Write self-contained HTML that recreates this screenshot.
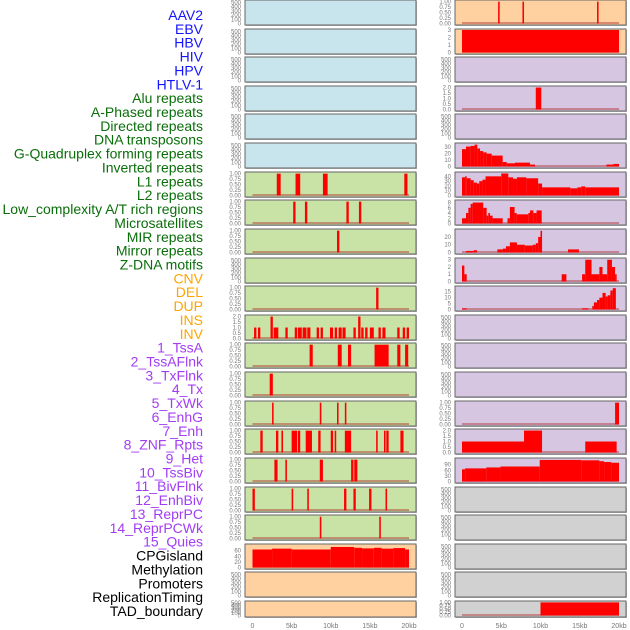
<!DOCTYPE html>
<html><head><meta charset="utf-8"><style>
body{margin:0;background:#fff;width:630px;height:630px;overflow:hidden}
svg{display:block}
</style></head><body>
<svg id="chart" width="630" height="630" xmlns="http://www.w3.org/2000/svg" font-family="Liberation Sans, sans-serif"></svg>
<script>
// ---------- data ----------
const labels = ["AAV2","EBV","HBV","HIV","HPV","HTLV-1","Alu repeats","A-Phased repeats","Directed repeats","DNA transposons","G-Quadruplex forming repeats","Inverted repeats","L1 repeats","L2 repeats","Low_complexity A/T rich regions","Microsatellites","MIR repeats","Mirror repeats","Z-DNA motifs","CNV","DEL","DUP","INS","INV","1_TssA","2_TssAFlnk","3_TxFlnk","4_Tx","5_TxWk","6_EnhG","7_Enh","8_ZNF_Rpts","9_Het","10_TssBiv","11_BivFlnk","12_EnhBiv","13_ReprPC","14_ReprPCWk","15_Quies","CPGisland","Methylation","Promoters","ReplicationTiming","TAD_boundary"];
const labelGroups = [6,13,5,15,5];
const groupColors = ["#1414ff","#0a6e0a","#ffa500","#a23cf5","#000000"];
const xTicks = [0,5,10,15,20];
const xTickLabels = ["0","5kb","10kb","15kb","20kb"];

const ticksE = [0,100,200,300,400,500];
const ticksP = [0,0.25,0.5,0.75,1];
const ticksT2 = [0,0.5,1,1.5,2];

// left column segments [startKb, endKb, value]
const leftL1 = [[3.1,3.6,1],[5.5,6.1,1],[9.0,9.6,1],[19.4,19.8,1]];
const leftL2 = [[5.2,5.5,1],[6.7,7.0,1],[12.0,12.3,1],[13.6,13.9,1]];
const leftLowC = [[10.8,11.1,1]];
const leftMicro = [[15.8,16.1,1]];
const leftMIR = [[0.2,0.5,1],[0.7,1.0,1],[2.3,2.6,2],[2.7,3.3,1],[4.2,4.5,1],[5.4,5.7,1],[5.8,6.3,1],[6.4,6.9,1],[7.0,7.4,1],[8.2,8.5,1],[8.7,9.0,1],[9.9,10.3,1],[10.5,10.8,1],[11.0,11.4,1],[11.5,11.9,1],[12.9,13.2,1],[13.5,13.8,2],[13.9,14.2,1],[14.4,14.7,1],[15.0,15.5,1],[16.1,16.4,1],[16.6,17.0,1],[18.5,18.8,1],[19.2,19.5,1],[19.7,20.0,1]];
const leftTssA = [[7.3,7.7,1],[10.9,11.4,1],[12.2,12.6,1],[15.6,17.4,1],[18.5,18.9,1],[19.5,19.9,1]];
const leftTssAFlnk = [[2.2,2.6,1]];
const leftTxFlnk = [[2.5,2.7,1],[8.6,8.8,1],[10.8,11.0,1],[11.8,12.0,1]];
const leftTx = [[1.0,1.3,1],[3.0,3.3,1],[3.7,3.9,1],[5.0,5.7,1],[5.8,6.1,1],[6.8,7.6,1],[8.4,8.7,1],[10.0,10.3,1],[10.5,10.7,1],[11.8,12.6,1],[15.8,16.0,1],[16.8,17.0,1],[17.1,17.4,1],[18.9,19.3,1]],
      leftTxWk = [[2.8,3.2,1],[4.2,4.4,1],[8.6,9.0,1],[12.6,12.9,1],[13.0,13.4,1]];
const leftEnhG = [[0.0,0.3,1],[5.0,5.2,1],[7.0,7.2,1],[11.7,12.0,1],[12.9,13.2,1],[14.9,15.2,1],[17.0,17.2,1]];
const leftEnh = [[8.6,8.8,1],[16.2,16.4,1]];
const leftCpG = [[0,2.5,64],[2.5,5,67],[5,10,64],[10,13,73],[13,14,70],[14,15.5,68],[15.5,16.5,70],[16.5,18,67],[18,19.5,69],[19.5,20,64]];

// right column segments
const rightAAV2 = [[4.6,4.8,1],[7.7,7.9,1],[17.2,17.4,1]];
const rightEBV = [[0,20,3]];
const rightAlu = [[9.4,10.1,2]];
const rightGQuad = [[0,0.51,27],[0.51,1.1,31],[1.1,1.6,32],[1.6,1.95,34],[1.95,2.3,28],[2.3,2.7,24],[2.7,3.14,22],[3.14,3.78,20],[3.78,5.18,17],[5.18,5.7,7],[5.7,6.75,5],[6.75,8.66,6],[8.66,9.3,3],[18.4,19.28,3],[19.28,20,4]];
const rightL1 = [[0,0.4,38],[0.4,0.6,40],[0.6,1.1,36],[1.1,1.5,32],[1.5,1.9,27],[1.9,2.2,25],[2.2,2.6,30],[2.6,3.0,33],[3.0,5.0,40],[5.0,5.9,46],[5.9,6.5,38],[6.5,7.0,35],[7.0,8.2,38],[8.2,9.7,36],[9.7,10.2,25],[10.2,13.8,17],[13.8,14.7,15],[14.7,15.2,17],[15.2,15.7,19],[15.7,20,17]];
const rightLowC = [[0,0.51,2],[0.51,0.81,4],[0.81,1.1,6],[1.1,1.36,7.5],[1.36,2.7,8],[2.7,3.14,6],[3.14,3.35,3],[3.35,3.57,4],[3.57,3.9,3],[3.9,5.18,2],[5.8,6.1,2],[6.1,6.7,6.3],[6.7,6.97,4],[6.97,8.45,3.5],[8.45,8.66,4],[8.66,9.09,5],[9.09,9.5,4],[9.5,10.15,5]];
const rightMIR = [[0.5,1.5,2],[1.5,1.9,3],[4.5,5.2,4],[5.2,5.6,5],[5.6,6.1,8],[6.1,7.0,13],[7.0,8.0,10],[8.0,9.0,9],[9.0,9.4,10],[9.4,9.7,12],[9.7,10.0,20],[10.0,10.2,28],[13.5,14.9,4]];
const rightMirror = [[0,0.3,2.2],[0.3,0.6,1],[12.7,13.3,1],[15.3,15.7,1],[15.7,16.5,3],[16.5,17.5,1],[17.5,17.9,2],[17.9,18.5,1],[18.5,19.1,3],[19.1,19.5,2],[19.5,19.7,1]];
const rightZDNA = [[0,0.6,1],[15.3,16.1,1],[16.6,16.8,3],[16.8,17.2,6],[17.2,17.5,8],[17.5,17.9,10],[17.9,18.3,14],[18.3,18.55,11],[18.55,18.9,12],[18.9,19.2,16],[19.2,19.6,18]];
const rightEnhG = [[19.5,20,1]];
const rightEnh = [[0,7.9,1],[7.9,10.2,2],[15.7,19.7,1]];
const rightZNF = [[0,0.4,65],[0.4,3.1,70],[3.1,4.9,75],[4.9,9.9,80],[9.9,15.2,115],[15.2,17.5,113],[17.5,18.1,108],[18.1,19,104],[19,20,100]];
const rightTAD = [[10,20,1]];

const BLUE="#c8e4ec", GREEN="#c9e2a5", ORANGE="#ffd1a1", PURPLE="#d6c6e2", GREY="#d1d1d1";
// row specs: [bg, ticks, tickLabels, max, segments, name]
const leftRows = [
 [BLUE,ticksE,null,530,[],"aav2"],[BLUE,ticksE,null,530,[],"ebv"],[BLUE,ticksE,null,530,[],"hbv"],
 [BLUE,ticksE,null,530,[],"hiv"],[BLUE,ticksE,null,530,[],"hpv"],[BLUE,ticksE,null,530,[],"htlv"],
 [GREEN,ticksP,"p",1.03,leftL1,"l1"],[GREEN,ticksP,"p",1.03,leftL2,"l2"],[GREEN,ticksP,"p",1.03,leftLowC,"lowc"],
 [GREEN,ticksE,null,530,[],"empty"],[GREEN,ticksP,"p",1.03,leftMicro,"micro"],[GREEN,ticksT2,"t2",2.05,leftMIR,"mir"],
 [GREEN,ticksP,"p",1.03,leftTssA,"tssa"],[GREEN,ticksP,"p",1.03,leftTssAFlnk,"tssaflnk"],[GREEN,ticksP,"p",1.03,leftTxFlnk,"txflnk"],
 [GREEN,ticksP,"p",1.03,leftTx,"tx"],[GREEN,ticksP,"p",1.03,leftTxWk,"txwk"],[GREEN,ticksP,"p",1.03,leftEnhG,"enhg"],
 [GREEN,ticksP,"p",1.03,leftEnh,"enh"],[ORANGE,[0,20,40,60],null,80,leftCpG,"cpg"],[ORANGE,ticksE,null,530,[],"promoters"],[ORANGE,ticksE,null,530,[],"tad"]
];
const rightRows = [
 [ORANGE,ticksP,"p",1.03,rightAAV2,"aav2"],[ORANGE,[0,1,2,3],null,3.0,rightEBV,"ebv"],[PURPLE,ticksE,null,530,[],"hiv"],
 [PURPLE,ticksT2,"t2",2.05,rightAlu,"alu"],[PURPLE,ticksE,null,530,[],"empty"],[PURPLE,[0,10,20,30],null,35,rightGQuad,"gquad"],
 [PURPLE,[0,10,20,30,40],null,47,rightL1,"l1"],[PURPLE,[0,2,4,6,8],null,8.6,rightLowC,"lowc"],[PURPLE,[0,10,20],null,29,rightMIR,"mir"],
 [PURPLE,[0,1,2,3],null,3.1,rightMirror,"mirror"],[PURPLE,[0,5,10,15],null,19,rightZDNA,"zdna"],[PURPLE,ticksE,null,530,[],"e1"],
 [PURPLE,ticksE,null,530,[],"e2"],[PURPLE,ticksE,null,530,[],"e3"],[PURPLE,ticksP,"p",1.03,rightEnhG,"enhg"],
 [PURPLE,ticksT2,"t2",2.05,rightEnh,"enh"],[PURPLE,[0,30,60,90],null,120,rightZNF,"znf"],[GREY,ticksE,null,530,[],"e4"],
 [GREY,ticksE,null,530,[],"e5"],[GREY,ticksE,null,530,[],"e6"],[GREY,ticksE,null,530,[],"e7"],[GREY,ticksP,"p",1.03,rightTAD,"tad"]
];

// ---------- drawing ----------
const NS="http://www.w3.org/2000/svg";
const svg=document.getElementById('chart');
function mk(tag,attrs,parent){const e=document.createElementNS(NS,tag);for(const k in attrs)e.setAttribute(k,attrs[k]);(parent||svg).appendChild(e);return e;}

// labels
let li=0;
labelGroups.forEach((n,g)=>{for(let k=0;k<n;k++){
  const t=mk('text',{x:203,y:(20+li*13.86).toFixed(1),'text-anchor':'end','font-size':'14',fill:groupColors[g]});
  
  
  t.textContent=labels[li];li++;}});

const cols=[{x0:245,x1:416,kb0:252.5,kb20:409,rows:leftRows,side:'left'},{x0:455,x1:626,kb0:462,kb20:619,rows:rightRows,side:'right'}];
function fmt(v,mode){if(mode==='p')return v.toFixed(2);if(mode==='t2')return v.toFixed(1);return String(v);}
cols.forEach(c=>{
  const xs=kb=>c.kb0+(c.kb20-c.kb0)*kb/20;
  c.rows.forEach((r,i)=>{
    const top=Math.round(i*28.62), h=(i===21)?16:25, bot=top+h;
    const g=mk('g',{});
    
    
    mk('rect',{x:c.x0+1,y:top+1,width:c.x1-c.x0,height:h,fill:'#bbb'},g);
    mk('rect',{x:c.x0,y:top,width:c.x1-c.x0,height:h,fill:r[0],stroke:'#666','stroke-width':1},g);
    const ya=bot-1.5, yb=top+1;
    const ys=v=>ya-(ya-yb)*v/r[3];
    if(r[4].length){
      mk('line',{x1:xs(0),x2:xs(20),y1:ya-0.5,y2:ya-0.5,stroke:'#b03030','stroke-width':1.5,opacity:0.6},g);
    }
    r[4].forEach(s=>{
      const b=mk('rect',{x:xs(s[0]).toFixed(2),y:ys(s[2]).toFixed(2),width:Math.max(1.5,xs(s[1])-xs(s[0])).toFixed(2),height:(ya-ys(s[2])).toFixed(2),fill:'#ff0000'},g);
      
      
    });
    r[1].forEach(tv=>{
      const t=mk('text',{x:c.x0-4,y:(ys(tv)+2).toFixed(1),'text-anchor':'end','font-size':'6',fill:'#777'},g);
      
      
      t.textContent=fmt(tv,r[2]);
    });
  });
  xTicks.forEach((kb,j)=>{
    const t=mk('text',{x:xs(kb),y:628,'text-anchor':'middle','font-size':'7',fill:'#777'});
    
    
    t.textContent=xTickLabels[j];
  });
});
</script>
</body></html>
